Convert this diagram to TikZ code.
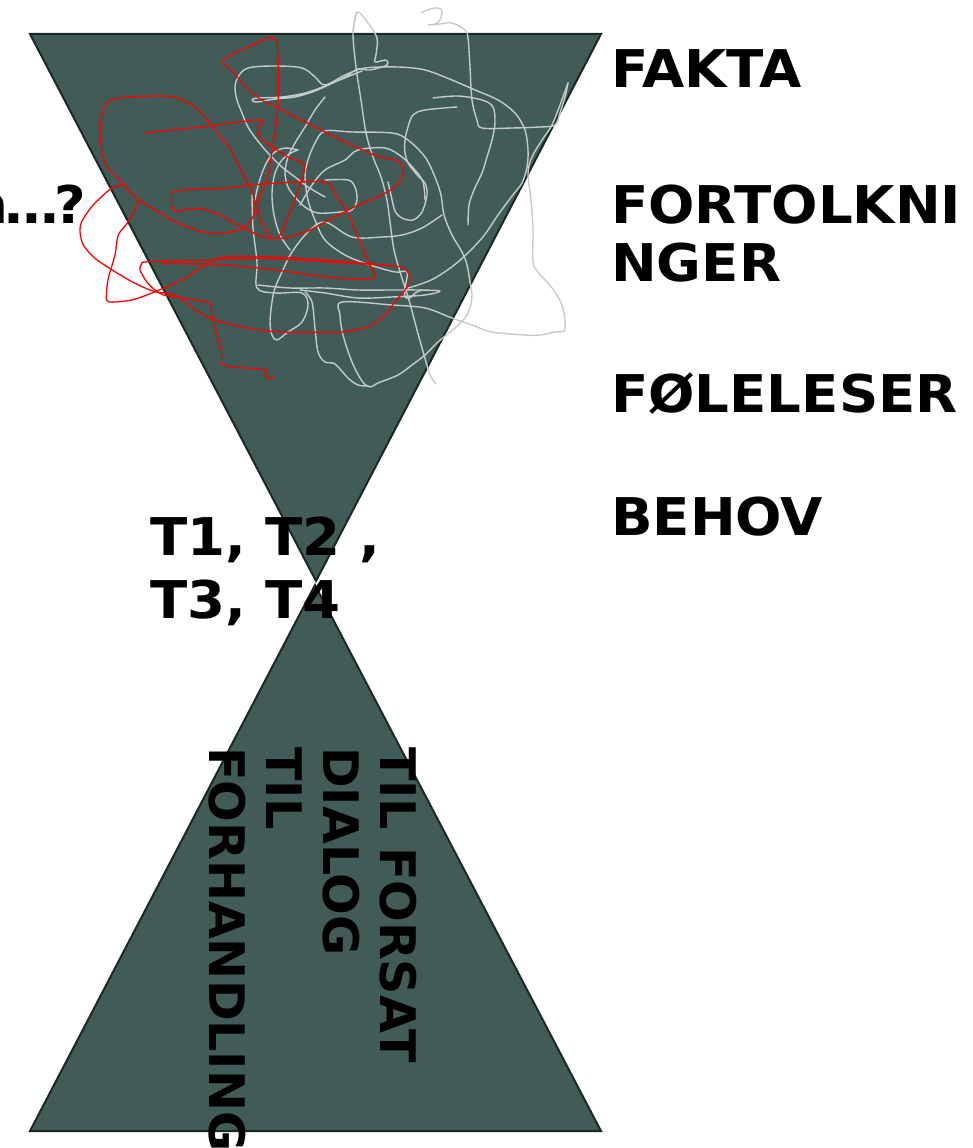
\documentclass[tikz,border=0pt]{standalone}
\usepackage{fontspec}
\setmainfont[FakeStretch=1.05]{DejaVu Sans}
\newfontfamily\plainsans{DejaVu Sans}
\definecolor{funnelfill}{RGB}{65,91,86}
\definecolor{funneledge}{RGB}{28,40,37}
\definecolor{scribblegray}{RGB}{196,204,202}
\begin{document}
\begin{tikzpicture}[x=1pt,y=-1pt,
  funnel/.style={fill=funnelfill,draw=funneledge,line width=2pt,line join=miter},
  label/.style={font=\bfseries\fontsize{52}{58}\selectfont,inner sep=0pt,text=black,align=left},
  tlabel/.style={font=\bfseries\fontsize{52}{63}\selectfont,inner sep=0pt,text=black,align=left},
  vlabel/.style={font=\plainsans\bfseries\fontsize{49}{57}\selectfont,inner sep=0pt,text=black,align=left,rotate=-90},
  redink/.style={draw=red,line width=1.3pt,line cap=round,line join=round},
  grayink/.style={draw=scribblegray,line width=1.4pt,line cap=round,line join=round}]

\useasboundingbox (0,0) rectangle (973,1148);

% the two funnels
\draw[funnel] (30,34) -- (601,34) -- (316,581) -- cycle;
\draw[funnel] (315,585) -- (601,1131) -- (30,1131) -- cycle;

% labels on the right
\node[label,anchor=base west] (fakta) at (611,88) {FAKTA};
\node[label,anchor=north west] (fortolk) at (611,185) {FORTOLKNI\\NGER};
\node[label,anchor=base west] (folelser) at (611,412) {FØLELESER};
\node[label,anchor=base west] (behov) at (611,535) {BEHOV};

% cut-off question on the left, with tight dots
\node[label,anchor=base east] (question) at (86,223) {n\kern-4pt.\kern-3pt.\kern-3pt.\kern-6pt?};

% labels at the waist
\node[tlabel,anchor=north west] (tees) at (150,517) {T1, T2 ,\\T3, T4};

% rotated text in the lower funnel
\node[vlabel,anchor=north west] (outcome) at (417,747) {TIL FORSAT\\DIALOG\\TIL\\FORHANDLING};

% gray scribbles
\draw[grayink] plot[smooth,tension=0.55] coordinates {(353,33) (357,12) (368,23) (377,38) (376,55) (375,62) (386,60) (387,65) (370,70) (358,69) (345,77) (325,86) (305,93) (282,97) (258,98) (252,100) (257,102) (275,99) (295,97) (315,91) (335,82) (352,75) (362,71)};
\draw[grayink] plot[smooth,tension=0.55] coordinates {(357,12) (353,33) (356,67) (361,100) (366,133) (373,157) (381,177) (387,200) (390,222) (394,250) (401,275) (409,300) (417,330) (424,355) (430,375) (436,384)};
\draw[grayink] plot[smooth,tension=0.55] coordinates {(421,13) (430,9) (438,8) (442,11) (440,20) (435,24) (428,25) (440,24) (452,23) (465,30) (468,38) (470,67) (472,100) (477,120) (482,128) (512,128) (540,127) (555,125) (560,113) (565,97) (568,83)};
\draw[grayink] plot[smooth,tension=0.55] coordinates {(568,83) (560,105) (552,125) (542,140) (532,157) (528,173) (531,200) (533,228) (533,262) (538,272) (552,288) (562,305) (565,322) (564,331) (555,332) (540,335) (525,335) (492,332) (472,325) (452,318) (425,308) (392,305) (342,302) (340,315) (343,335) (352,362) (362,381) (370,387) (378,383) (398,375) (412,365) (425,355) (438,342) (455,328) (465,318) (470,308) (472,295) (470,282) (467,265) (462,252) (452,235) (444,215) (441,195) (435,177) (425,157) (408,140) (392,133) (352,132) (325,131) (315,143) (308,160) (305,177) (308,200) (315,220) (325,240) (345,255) (370,265) (395,272) (407,272) (405,288) (405,297) (410,298) (415,293) (422,290)};
\draw[grayink] plot[smooth,tension=0.55] coordinates {(325,197) (308,187) (295,177) (282,167) (268,153) (257,140) (248,127) (242,113) (237,100) (235,87) (238,77) (248,68) (275,66) (302,68) (315,77) (325,85) (345,75) (365,68) (398,67) (425,70) (452,80) (475,90) (498,100) (515,113) (525,130) (528,150) (527,167) (522,183) (512,196) (498,215) (482,238) (458,262) (435,278) (418,285) (408,288)};
\draw[grayink] plot[smooth,tension=0.55] coordinates {(433,98) (458,96) (482,100) (493,107) (495,123) (492,140) (487,157) (482,173) (474,190) (469,205) (468,225)};
\draw[grayink] plot[smooth,tension=0.55] coordinates {(457,107) (425,110) (413,115) (408,127) (405,140) (405,153) (408,163) (413,170) (419,177) (425,183) (427,195) (422,212) (413,220) (402,218) (395,211) (391,195) (388,182)};
\draw[grayink] plot[smooth,tension=0.55] coordinates {(300,205) (312,185) (325,170) (345,160) (358,150) (385,148) (402,157) (415,170) (423,182) (425,200)};
\draw[grayink] plot[smooth,tension=0.55] coordinates {(252,195) (253,228) (257,262) (257,288) (275,293) (302,293) (308,305) (302,322) (288,332) (277,340) (272,335) (270,322) (272,302) (275,288) (282,272) (292,252) (308,232) (325,222) (352,237) (382,237) (402,235) (422,228) (442,215)};
\draw[grayink] plot[smooth,tension=0.55] coordinates {(258,285) (290,288) (325,288) (358,290) (392,290) (418,290) (440,291) (425,295) (392,297) (358,298) (325,293) (300,290)};
\draw[grayink] plot[smooth,tension=0.55] coordinates {(305,292) (312,302) (315,328) (318,352) (325,362) (335,364) (348,378) (358,385) (368,386)};
\draw[grayink] plot[smooth,tension=0.55] coordinates {(298,150) (285,148) (275,152) (268,160) (262,173) (257,190) (255,200)};
\draw[grayink] plot[smooth,tension=0.55] coordinates {(298,150) (291,153) (282,160) (275,173) (272,193) (274,215) (280,235) (290,250)};
\draw[grayink] plot[smooth,tension=0.55] coordinates {(325,97) (315,110) (305,127) (295,143) (288,157) (285,173) (288,187) (295,197) (305,207) (318,213) (340,212) (352,210) (357,200) (355,187) (348,180) (325,180)};

% red scribbles
\draw[redink] plot[smooth,tension=0.5] coordinates {(271.7,237.7) (266.7,231.7) (260,218.3) (257.7,206.7) (259,198) (264,188) (268.3,173.3) (271.7,153.3) (275,133.3) (276.7,120) (278.3,100) (278.3,66.7) (277.3,43.3) (275,39) (268.3,37.7) (262,40.7) (248,47) (235,53) (221.7,60.7) (226.7,66.7) (233.3,71.7) (238.3,78.3) (246.7,88.3) (261.7,100) (278.3,108.3) (295,116.7) (311.7,125) (325,131.7) (338.3,138.3) (351.7,145) (366.7,151.7) (378.3,156.7) (395,160) (402.3,165) (403.3,171.7) (400,181.7) (393.3,188.3) (381.7,195) (375,198.3) (358.3,205) (345,211.7) (335,216.7) (325,222) (308.3,231) (298.3,234) (288,237.5) (278,238.5) (271.7,237.7)};
\draw[redink] plot[smooth,tension=0.5] coordinates {(145,133) (200,127) (260,120) (257.7,128) (260,138) (270,145) (288,157) (303,163) (304,173) (298,190) (293,205) (286,222) (279,237)};
\draw[redink] plot[smooth,tension=0.5] coordinates {(253.3,193.3) (248.3,183.3) (241.7,171.7) (235,158.3) (230,148.3) (221.7,138.3) (211.7,125) (203.3,115) (191.7,105) (178.3,98.3) (161.7,96) (135,96.7) (118.3,98.3) (108.3,101.7) (102,115) (100,133.3) (101.7,150) (105,163.3) (111.7,172) (121.7,181.7) (130,191.7) (141.7,201.7) (158.3,211.7) (175,221.7) (191.7,228.3) (208.3,233.3) (225,233.3) (241.7,228.3) (250,222) (255,210) (253.3,193.3)};
\draw[redink] plot[smooth,tension=0.5] coordinates {(275,238.3) (261.7,236.7) (245,228.3) (231.7,221.7) (218.3,214.3) (201.7,209) (188.3,209) (175,211.7) (171.7,205) (171.7,193.3) (178.3,190.7) (195,189.3) (225,188.3) (251.7,185) (281.7,182.7) (308.3,181.7) (325,181.7) (331.7,186.7) (336.7,196.7) (345,208.3) (351.7,221.7) (358.3,238.3) (365,253.3) (370,265) (375,274.3) (373.3,278.3) (358.3,279.3) (325,276.7) (275,270) (225,265) (161.7,263.3)};
\draw[redink] plot[smooth,tension=0.5] coordinates {(130,191.7) (123.3,185) (111.7,188.3) (101.7,196.7) (91.7,206.7) (81.7,221.7) (80,231.7) (83.3,245) (95,258.3) (115,271.7) (135,283.3) (155,291.7) (175,295) (195,310) (215,320) (241.7,326.7) (275,331.7) (325,332.3) (345,331.7) (368.3,326.7) (385,315) (395,301.7) (405,290) (410,280) (406.7,271) (395,266) (325,261.7) (261.7,258.3) (215,260) (148.3,261.7) (141.7,264) (140,270) (146.7,281.7) (155,290) (163.3,295) (175,296.7) (195,300) (210,303.3) (211.7,315) (216.7,335) (221.7,351.7) (223.3,365) (248.3,368.3) (265,370) (266.7,376.7) (268.3,379) (274.3,377)};
\draw[redink] plot[smooth,tension=0.5] coordinates {(138.3,201.7) (128.3,221.7) (118.3,235) (115,255) (108.3,278.3) (106.7,291.7) (108.3,301.7) (131.7,300) (155,291.7) (185,278.3) (218.3,258.3) (261.7,256.7) (325,260) (395,266)};

\end{tikzpicture}
\end{document}
